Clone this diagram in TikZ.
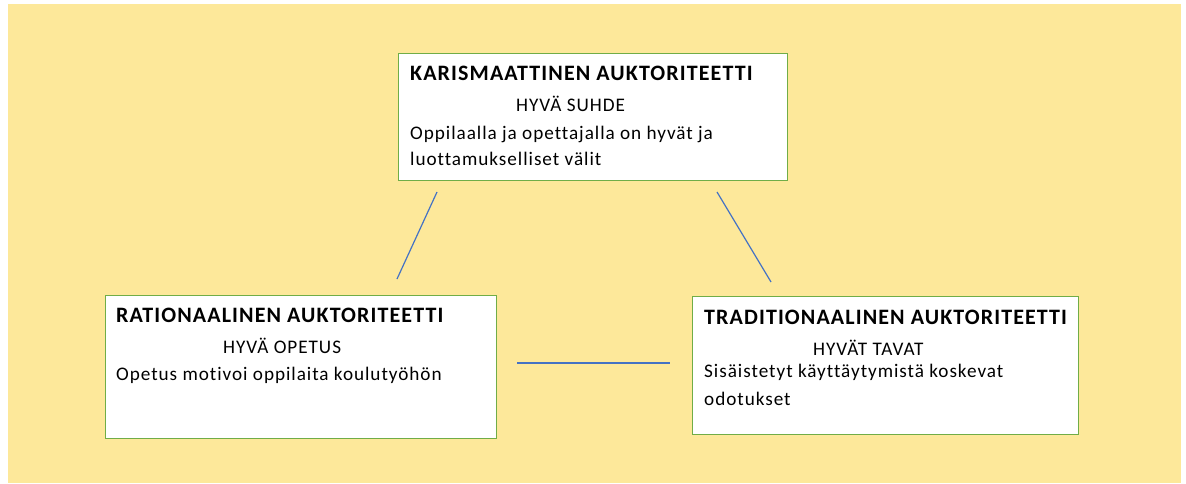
\documentclass[tikz,border=0pt]{standalone}
\usepackage{fontspec}
\setmainfont{Carlito}[Ligatures=NoCommon, LetterSpace=5]
\usepackage{tikz}

\definecolor{bgyellow}{HTML}{FDE89A}
\definecolor{boxgreen}{HTML}{70AD47}
\definecolor{lineblue}{HTML}{4472C4}

\tikzset{
  authbox/.style={draw=boxgreen, line width=1.3pt, fill=white, anchor=north west, inner sep=0pt},
  headtxt/.style={anchor=base west, inner sep=0pt, font=\fontsize{22}{26}\selectfont\bfseries},
  bodytxt/.style={anchor=base west, inner sep=0pt, font=\fontsize{19.2}{23}\selectfont},
  link/.style={draw=lineblue, line width=1.2pt}
}

\begin{document}
\begin{tikzpicture}[x=1pt,y=-1pt]
%background
\useasboundingbox (0,0) rectangle (1186,483);
\fill[bgyellow] (8,4) rectangle (1181,483);
%boxes
\node[authbox, minimum width=389pt, minimum height=127pt] (kar) at (398,53) {};
\node[authbox, minimum width=391pt, minimum height=143pt] (rat) at (105,295) {};
\node[authbox, minimum width=386pt, minimum height=138pt] (tra) at (692,296) {};
%texts
\node[headtxt] (karH) at ([shift={(12,27)}]kar.north west) {KARISMAATTINEN AUKTORITEETTI};
\node[bodytxt] (karS) at ([shift={(118,58)}]kar.north west) {HYVÄ SUHDE};
\node[bodytxt] (karA) at ([shift={(12,86)}]kar.north west) {Oppilaalla ja opettajalla on hyvät ja};
\node[bodytxt] (karB) at ([shift={(12,112)}]kar.north west) {luottamukselliset välit};
\node[headtxt] (ratH) at ([shift={(11,27)}]rat.north west) {RATIONAALINEN AUKTORITEETTI};
\node[bodytxt] (ratS) at ([shift={(118,58)}]rat.north west) {HYVÄ OPETUS};
\node[bodytxt] (ratA) at ([shift={(11,85)}]rat.north west) {Opetus motivoi oppilaita koulutyöhön};
\node[headtxt] (traH) at ([shift={(12,28)}]tra.north west) {TRADITIONAALINEN AUKTORITEETTI};
\node[bodytxt] (traS) at ([shift={(121,59)}]tra.north west) {HYVÄT TAVAT};
\node[bodytxt] (traA) at ([shift={(12,81)}]tra.north west) {Sisäistetyt käyttäytymistä koskevat};
\node[bodytxt] (traB) at ([shift={(12,109)}]tra.north west) {odotukset};
%connectors
\coordinate (kr1) at (437,192);
\coordinate (kr2) at (397,279);
\coordinate (kt1) at (717,192);
\coordinate (kt2) at (771,282);
\coordinate (rt1) at (517,363);
\coordinate (rt2) at (670,363);
\draw[link] (kr1) -- (kr2);
\draw[link] (kt1) -- (kt2);
\draw[link] (rt1) -- (rt2);
\end{tikzpicture}
\end{document}
